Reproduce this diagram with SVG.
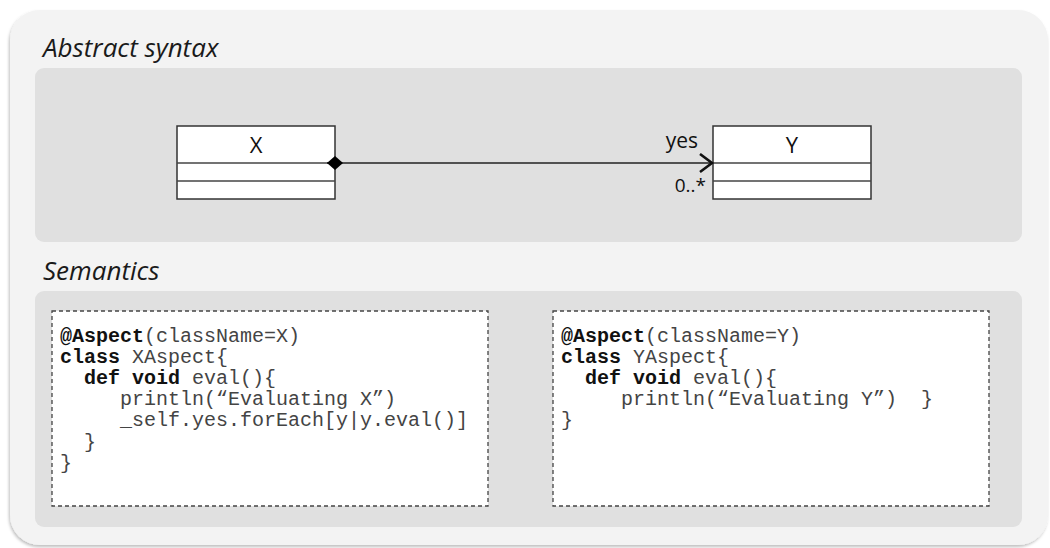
<svg xmlns="http://www.w3.org/2000/svg" width="1050" height="548" viewBox="0 0 1050 548">
<defs>
<filter id="sh" x="-5%" y="-5%" width="110%" height="112%">
<feDropShadow dx="-1" dy="2" stdDeviation="1.5" flood-color="#000" flood-opacity="0.25"/>
</filter>
<marker id="open" markerWidth="16" markerHeight="22" refX="13" refY="10" orient="auto" markerUnits="userSpaceOnUse">
<path d="M1,1 L13,10 L1,19" fill="none" stroke="#111" stroke-width="2.6"/>
</marker>
<marker id="diam" markerWidth="18" markerHeight="16" refX="1" refY="8" orient="auto" markerUnits="userSpaceOnUse">
<path d="M1,8 L9,1 L17,8 L9,15 Z" fill="#000"/>
</marker>
</defs>
<style>
.title{font-family:"Open Sans","Noto Sans",sans-serif;font-style:italic;font-size:26px;fill:#1a1a1a}
.cls{font-family:"Open Sans","Noto Sans",sans-serif;font-size:22px;fill:#111;text-anchor:middle}
.lbl{font-family:"Open Sans","Noto Sans",sans-serif;fill:#111;text-anchor:end}
.box{fill:#fff;stroke:#333;stroke-width:1.5}
.div{stroke:#444;stroke-width:1.5}
.code{font-family:"Liberation Mono","Courier New",monospace;font-size:20px;fill:#444;white-space:pre}
.b{font-weight:bold;fill:#111}
.dash{fill:#fff;stroke:#444;stroke-width:1.3;stroke-dasharray:4,3}
</style>
<rect x="10" y="10" width="1038" height="535" rx="30" fill="#f3f3f3" filter="url(#sh)"/>
<text class="title" x="43" y="57">Abstract syntax</text>
<rect x="35" y="68" width="987" height="174" rx="9" fill="#e0e0e0"/>
<text class="title" x="43" y="280">Semantics</text>
<rect x="35" y="291" width="987" height="236" rx="9" fill="#e0e0e0"/>

<g id="X">
<rect class="box" x="177" y="126" width="158" height="73"/>
<line class="div" x1="177" y1="163" x2="335" y2="163"/>
<line class="div" x1="177" y1="181" x2="335" y2="181"/>
<text class="cls" x="256" y="153">X</text>
</g>
<g id="Y">
<rect class="box" x="713" y="126" width="158" height="73"/>
<line class="div" x1="713" y1="163" x2="871" y2="163"/>
<line class="div" x1="713" y1="181" x2="871" y2="181"/>
<text class="cls" x="792" y="153">Y</text>
</g>
<g id="connectors">
<line x1="327" y1="163" x2="712" y2="163" stroke="#222" stroke-width="1.5" marker-start="url(#diam)" marker-end="url(#open)"/>
<text class="lbl" x="698" y="148" font-size="21">yes</text>
<text class="lbl" x="706" y="192" font-size="19">0..*</text>
</g>

<g id="XAspect">
<rect class="dash" x="52" y="311" width="436" height="195"/>
<text class="code" x="60" y="342"><tspan class="b">@Aspect</tspan>(className=X)</text>
<text class="code" x="60" y="363"><tspan class="b">class</tspan> XAspect{</text>
<text class="code" x="84" y="384"><tspan class="b">def void</tspan> eval(){</text>
<text class="code" x="120" y="405">println(“Evaluating X”)</text>
<text class="code" x="120" y="426">_self.yes.forEach[y|y.eval()]</text>
<text class="code" x="84" y="448">}</text>
<text class="code" x="60" y="469">}</text>
</g>
<g id="YAspect">
<rect class="dash" x="553" y="311" width="436" height="195"/>
<text class="code" x="561" y="342"><tspan class="b">@Aspect</tspan>(className=Y)</text>
<text class="code" x="561" y="363"><tspan class="b">class</tspan> YAspect{</text>
<text class="code" x="585" y="384"><tspan class="b">def void</tspan> eval(){</text>
<text class="code" x="621" y="405" xml:space="preserve">println(“Evaluating Y”)  }</text>
<text class="code" x="561" y="426">}</text>
</g>
</svg>
